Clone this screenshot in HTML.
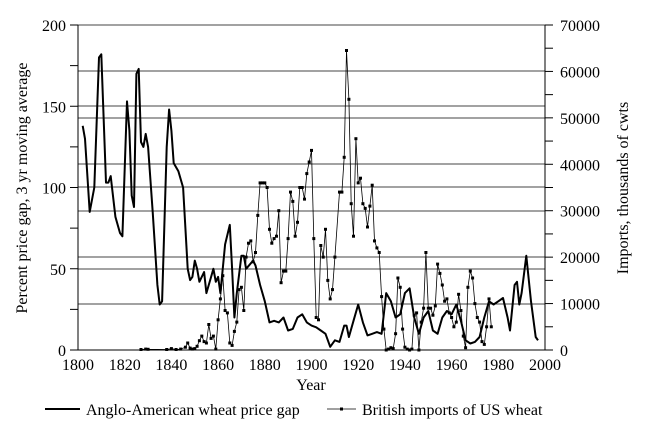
<!DOCTYPE html>
<html><head><meta charset="utf-8"><style>
body{margin:0;background:#fff}
svg{display:block;font-family:"Liberation Serif",serif}
</style></head><body>
<svg id="s" width="645" height="430" viewBox="0 0 645 430" xmlns="http://www.w3.org/2000/svg"></svg>
<script>
const s=document.getElementById('s');
const X=y=>78+(y-1800)*2.335, YL=v=>350-v*1.625, YR=v=>350-v*0.004643;
let h='';
// gridlines
[25,71,106,118,164,187,211,257,269,304].forEach(y=>h+=`<line x1="78" x2="545" y1="${y}" y2="${y}" stroke="#444" stroke-width="1"/>`);
h+=`<line x1="78" x2="545" y1="350" y2="350" stroke="#000"/>`;
h+=`<line x1="78" x2="78" y1="25" y2="350" stroke="#000"/>`;
h+=`<line x1="545" x2="545" y1="25" y2="350" stroke="#000"/>`;
for(let v=0;v<=200;v+=25){const y=YL(v);h+=`<line x1="70" x2="78" y1="${y}" y2="${y}" stroke="#000"/>`;if(v%50==0)h+=`<text x="66" y="${y+6}" font-size="16" text-anchor="end">${v}</text>`;}
for(let v=0;v<=70000;v+=5000){const y=YR(v);h+=`<line x1="545" x2="553" y1="${y}" y2="${y}" stroke="#000"/>`;if(v%10000==0)h+=`<text x="560" y="${y+6}" font-size="16">${v}</text>`;}
for(let yr=1800;yr<=2000;yr+=20){h+=`<text x="${X(yr)}" y="370" font-size="16" text-anchor="middle">${yr}</text>`;}
h+=`<text x="311" y="390" font-size="16" text-anchor="middle">Year</text>`;
h+=`<text transform="translate(27,188) rotate(-90)" font-size="16" text-anchor="middle">Percent price gap, 3 yr moving average</text>`;
h+=`<text transform="translate(628,188) rotate(-90)" font-size="16" text-anchor="middle">Imports, thousands of cwts</text>`;
const gap=[1802,138,1803,130,1805,85,1807,100,1809,180,1810,182,1812,103,1813,103,1814,107,1816,82,1818,72,1819,70,1821,153,1822,135,1823,95,1824,88,1825,170,1826,173,1827,128,1828,125,1829,133,1830,125,1832,85,1834,40,1835,28,1836,30,1838,125,1839,148,1840,135,1841,115,1843,110,1845,100,1846,75,1847,50,1848,43,1849,45,1850,55,1851,50,1852,42,1854,48,1855,35,1857,45,1858,50,1859,42,1860,45,1861,35,1863,65,1865,77,1866,50,1867,20,1868,35,1870,58,1871,58,1872,50,1875,55,1876,52,1878,40,1880,30,1882,17,1884,18,1886,17,1888,20,1890,12,1892,13,1894,20,1896,22,1898,17,1900,15,1902,14,1904,12,1906,10,1908,2,1910,6,1912,5,1914,15,1915,15,1916,8,1918,18,1920,28,1922,17,1924,9,1926,10,1928,11,1930,10,1932,35,1934,30,1936,20,1938,22,1940,35,1942,38,1944,20,1946,10,1948,20,1950,24,1952,12,1954,10,1956,20,1958,24,1960,22,1962,28,1964,18,1966,6,1968,4,1970,5,1972,8,1974,20,1976,30,1978,28,1980,30,1982,32,1984,20,1985,12,1987,40,1988,42,1989,28,1990,35,1992,58,1994,30,1996,8,1997,6];
let p='';for(let i=0;i<gap.length;i+=2)p+=(i?'L':'M')+X(gap[i]).toFixed(1)+','+YL(gap[i+1]).toFixed(1);
h+=`<path d="${p}" fill="none" stroke="#000" stroke-width="2" stroke-linejoin="round"/>`;
const imp=[1827,100,1829,200,1830,150,1838,100,1840,300,1842,100,1844,200,1846,600,1847,1500,1848,400,1849,200,1850,300,1851,800,1852,2000,1853,3000,1854,1800,1855,1500,1856,5500,1857,2500,1858,3000,1859,200,1860,6500,1861,11000,1862,16000,1863,8500,1864,8000,1865,1500,1866,1000,1867,4000,1868,6000,1869,13000,1870,13500,1871,8500,1872,20000,1873,23000,1874,23500,1875,19000,1876,21000,1877,29000,1878,36000,1879,36000,1880,36000,1881,35000,1882,26000,1883,23000,1884,24000,1885,24500,1886,30000,1887,14500,1888,17000,1889,17000,1890,24000,1891,34000,1892,32000,1893,24500,1894,27500,1895,35000,1896,35000,1897,32500,1898,38000,1899,40500,1900,43000,1901,24000,1902,7000,1903,6500,1904,22500,1905,20000,1906,26000,1907,15000,1908,11000,1909,13000,1910,20000,1912,34000,1913,34000,1914,41500,1915,64500,1916,54000,1917,31500,1918,24500,1919,45500,1920,36000,1921,37000,1922,31500,1923,30500,1924,26500,1925,31000,1926,35500,1927,23500,1928,22000,1929,21000,1930,11500,1931,4500,1932,0,1933,200,1934,500,1935,300,1936,3500,1937,15500,1938,13500,1939,4500,1940,600,1941,200,1942,0,1943,200,1944,7500,1945,8000,1946,0,1947,6000,1948,9000,1949,21000,1950,9000,1951,9000,1952,7500,1953,9500,1954,18500,1955,16500,1956,14000,1957,10500,1958,11000,1959,8000,1960,7000,1961,5000,1962,6000,1963,12000,1964,8500,1965,3000,1966,500,1967,13500,1968,17000,1969,15500,1970,10000,1971,7000,1972,6000,1973,1800,1974,1200,1975,5000,1976,11000,1977,5000];
p='';let m='';for(let i=0;i<imp.length;i+=2){const x=X(imp[i]),y=YR(imp[i+1]);p+=(i?'L':'M')+x.toFixed(1)+','+y.toFixed(1);m+=`<rect x="${(x-1.5).toFixed(1)}" y="${(y-1.5).toFixed(1)}" width="3" height="3"/>`;}
h+=`<path d="${p}" fill="none" stroke="#000" stroke-width="0.8"/>`+m;
// legend
h+=`<line x1="45" x2="80" y1="409" y2="409" stroke="#000" stroke-width="2"/><text x="86" y="415" font-size="16">Anglo-American wheat price gap</text>`;
h+=`<line x1="327" x2="356" y1="409" y2="409" stroke="#000" stroke-width="0.8"/><rect x="340" y="407.5" width="3" height="3"/><text x="362" y="415" font-size="16">British imports of US wheat</text>`;
s.innerHTML=h;
</script>
</body></html>
